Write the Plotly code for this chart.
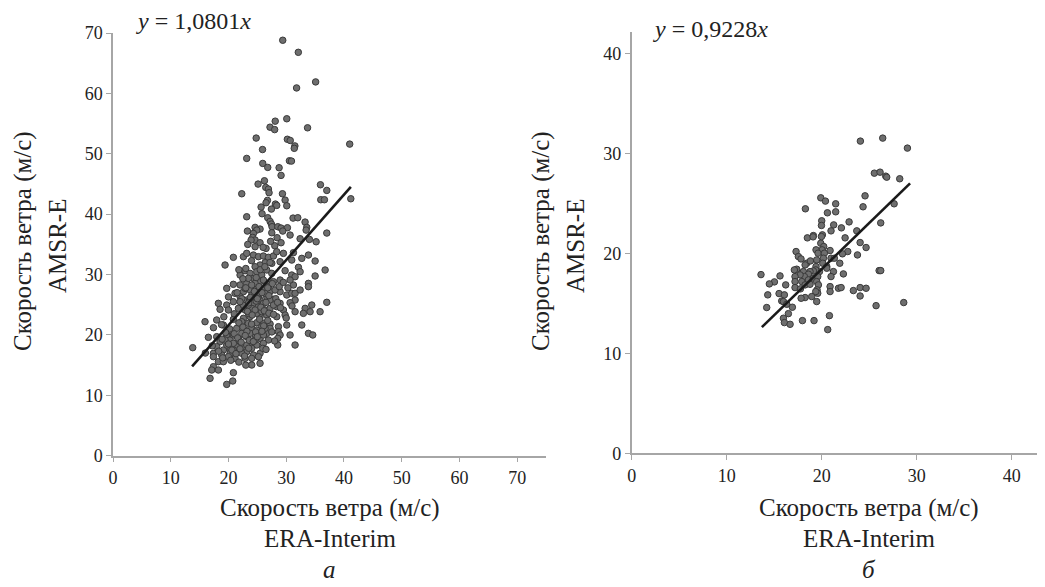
import plotly.graph_objects as go

# ---------------- data: panel a ----------------
a_x = [29.4, 32.1, 31.8, 35.1, 30.1, 28.1, 27.2, 28.0, 33.7, 24.8, 30.2, 30.7, 25.9, 31.5, 31.4, 41.0,
       23.16, 25.94, 26.80, 28.77, 30.56, 30.91, 29.11, 26.23, 25.13, 26.46, 26.92, 27.03, 22.30, 29.35,
       35.93, 37.03, 35.99, 36.62, 41.19, 29.81, 30.10, 26.75, 26.51, 28.13, 28.36, 25.65, 27.44, 25.82,
       23.16, 26.80, 27.21, 27.44, 27.55, 31.19, 32.00, 33.27, 33.56, 33.45, 28.54, 29.11, 30.21, 29.40,
       30.67, 25.47, 24.61, 24.90, 23.28, 24.32, 24.20, 24.61, 23.92, 25.47, 27.50, 28.42, 29.11, 28.02,
       26.51, 23.34, 24.61, 37.03, 32.41, 34.02, 35.18,
       20.85, 22.59, 23.16, 24.32, 25.19, 26.05, 26.92, 27.79, 28.36, 29.52, 31.25, 33.85, 35.01, 32.70,
       30.96, 28.94, 27.50, 26.34, 25.47, 24.61, 19.41, 22.88, 22.01, 23.74, 24.90, 25.76, 26.63, 27.50,
       29.81, 30.96, 32.12, 32.41, 31.54, 36.74, 35.01, 33.85, 33.85, 31.25, 30.67, 28.94, 27.79, 26.63,
       25.47, 24.32, 23.16, 22.01, 20.85, 19.70, 21.14, 22.59, 23.74, 24.90, 26.05, 27.21, 28.94, 30.10,
       30.96, 31.54, 32.41, 31.54, 30.67, 28.94, 27.79, 26.63, 25.47, 24.32, 23.16, 22.01, 20.85, 19.70,
       18.25, 18.54, 19.99, 21.72, 22.88, 24.03, 25.19, 26.34, 27.21, 28.36, 29.52, 29.81, 31.54, 33.28,
       34.43, 35.87, 37.03, 32.98, 34.14, 17.96, 20.85, 22.59, 23.74, 25.47, 26.63, 28.36,
       23.45, 24.61, 24.03, 25.19, 26.05, 26.92, 28.07, 24.90, 26.05, 23.45, 22.59, 27.21, 25.47, 24.03,
       22.88, 26.34, 27.79, 24.61, 25.76, 23.45,
       15.94, 19.12, 22.30, 23.45, 24.90, 26.05, 27.21, 25.76, 24.03, 22.88, 21.43, 20.28, 19.70, 17.96,
       16.52, 13.81, 18.54, 20.28, 21.72, 23.16, 24.61, 25.47, 26.63, 27.21, 28.65, 28.65, 28.94, 30.10,
       30.67, 31.54, 32.70, 33.85, 34.60, 28.54, 28.54, 26.92, 26.05, 24.90, 23.74, 22.59, 21.43, 20.28,
       19.12, 17.96, 17.39, 18.83, 20.28, 21.72, 23.16, 24.32, 25.47, 25.94, 25.19, 24.03, 25.47, 24.03,
       22.88, 21.14, 19.99, 18.25, 17.39, 17.10, 18.25, 16.81, 20.85, 20.74, 19.70, 17.39, 19.12,
       20.85, 22.30, 23.74, 24.90, 22.01, 23.16, 24.61, 20.85, 19.70, 24.03, 22.30, 20.85, 19.41, 26.05,
       26.34,
       21.5, 22.3, 23.0, 23.8, 24.5, 25.3, 25.8, 26.5, 27.0, 27.6, 28.2, 28.8, 22.6, 23.3, 24.1, 24.8,
       25.6, 26.2, 27.0, 27.8, 28.5, 21.0, 21.8, 22.5, 23.2, 24.0, 24.7, 25.4, 26.1, 26.8, 20.2, 21.0,
       21.6, 22.2, 22.9, 23.6, 24.3, 25.0, 25.8, 20.0, 20.6, 21.3, 22.0, 22.8, 23.5, 18.9, 19.5, 18.3,
       19.0, 20.4, 21.8, 23.0, 24.8, 25.5, 26.3, 27.2, 26.0, 27.3, 24.0, 23.0, 21.8, 22.5, 29.5, 30.3,
       29.0, 30.0, 31.0, 27.5, 28.0, 26.5, 20.0, 19.2, 18.8, 17.4, 17.2, 16.0, 26.8, 25.0, 23.5, 22.0]
a_y = [68.8, 66.8, 60.9, 61.9, 55.8, 55.4, 54.4, 54.0, 54.3, 52.6, 52.4, 52.2, 50.7, 51.3, 50.9, 51.6,
       49.23, 48.40, 47.74, 47.69, 48.84, 48.79, 46.42, 45.53, 44.98, 44.43, 44.15, 43.55, 43.38, 43.38,
       44.87, 43.93, 42.39, 42.39, 42.55, 42.33, 41.39, 42.28, 41.89, 41.67, 41.45, 41.17, 40.84, 40.07,
       39.57, 39.41, 38.80, 38.36, 37.92, 39.35, 39.41, 38.69, 37.81, 37.36, 37.92, 37.70, 37.75, 37.20,
       36.54, 37.53, 37.81, 37.36, 37.20, 36.81, 36.15, 35.71, 35.71, 35.27, 36.92, 36.10, 35.27, 34.77,
       34.33, 34.99, 34.61, 36.87, 35.93, 35.82, 35.43,
       32.85, 32.96, 33.51, 33.23, 32.96, 33.07, 32.85, 33.07, 33.78, 33.51, 33.62, 33.23, 32.24, 32.68,
       32.40, 32.13, 31.85, 31.96, 31.58, 31.30, 31.58, 30.64, 29.92, 30.20, 30.47, 29.92, 30.75, 30.20,
       30.64, 29.92, 31.19, 30.47, 29.64, 30.75, 29.76, 28.54, 27.99, 28.27, 29.09, 29.09, 28.82, 28.54,
       28.82, 29.37, 28.54, 28.27, 28.38, 27.71, 26.89, 27.16, 27.44, 27.71, 27.44, 27.16, 27.16, 26.61,
       26.89, 26.89, 27.44, 25.78, 25.34, 25.23, 25.89, 26.33, 25.78, 25.23, 25.78, 26.33, 25.51, 24.95,
       25.23, 24.24, 24.13, 24.40, 24.13, 24.40, 24.68, 24.13, 24.40, 24.68, 24.13, 23.30, 23.85, 24.40,
       24.95, 23.85, 25.40, 23.57, 23.85, 22.47, 22.58, 22.75, 23.02, 23.02, 23.30, 23.02,
       29.37, 28.54, 26.61, 26.33, 29.09, 27.99, 27.44, 23.57, 25.23, 24.95, 25.78, 25.78, 26.89, 28.27,
       27.71, 26.89, 24.95, 24.13, 23.85, 23.57,
       22.19, 21.64, 22.19, 21.92, 22.03, 21.92, 21.81, 21.37, 21.09, 20.81, 21.09, 20.54, 19.99, 19.71,
       19.60, 17.89, 18.88, 19.16, 19.43, 19.71, 19.99, 19.43, 20.26, 21.09, 21.37, 20.54, 19.99, 21.64,
       19.99, 18.33, 21.64, 20.26, 19.99, 19.43, 18.33, 19.16, 18.61, 18.33, 18.61, 18.06, 18.33, 17.78,
       17.50, 18.06, 16.95, 16.68, 16.95, 17.23, 17.23, 16.68, 16.95, 17.78, 16.40, 16.12, 15.30, 15.02,
       16.12, 16.12, 16.40, 15.57, 14.74, 14.19, 14.19, 12.81, 13.75, 12.37, 11.81, 16.40, 15.57,
       19.99, 20.26, 20.26, 20.81, 18.88, 18.33, 19.16, 18.61, 18.33, 17.78, 16.95, 17.50, 19.16, 19.99,
       21.09,
       27.0, 26.0, 27.8, 26.2, 27.2, 28.0, 27.0, 25.4, 26.5, 28.5, 26.0, 28.0, 24.9, 23.9, 23.3, 25.6,
       24.6, 24.0, 23.6, 23.4, 25.4, 23.5, 22.0, 21.3, 20.6, 21.8, 20.5, 22.6, 21.5, 22.4, 21.0, 20.2,
       19.5, 18.8, 19.9, 19.1, 18.9, 19.7, 20.6, 18.5, 17.5, 16.9, 17.7, 16.5, 17.8, 19.3, 20.4, 17.3,
       16.2, 15.8, 15.5, 15.0, 29.5, 30.8, 31.3, 32.0, 34.5, 35.5, 32.3, 31.0, 30.8, 29.3, 28.7, 27.8,
       24.5, 22.8, 24.8, 20.5, 19.0, 17.6, 26.3, 23.0, 21.7, 21.2, 18.2, 17.0, 27.8, 26.0, 25.3, 25.5]

a_slope = 1.0801
a_fit_x = [13.7, 41.2]

# ---------------- data: panel б ----------------
b_x = [24.07, 26.42, 29.02, 25.54, 26.14, 26.74, 26.84, 28.21, 19.90, 20.39, 21.47, 24.56, 18.28, 24.35,
       27.62, 20.60, 21.47, 20.00, 19.97, 21.26, 22.88, 22.07, 20.98, 26.21, 23.69, 20.07, 19.12,
       18.49, 19.09, 19.97, 22.46, 24.04, 24.67, 23.76, 22.74, 22.18, 20.88, 19.90, 20.21, 20.04, 19.40,
       19.61, 20.28, 20.18, 19.47, 17.30, 17.54, 17.82, 18.42, 18.25, 18.81, 19.40, 20.11, 20.53, 20.98,
       21.33, 21.90, 20.53, 21.23, 19.76, 19.37, 19.12, 18.77, 18.07, 17.37, 17.12, 18.60, 18.18, 17.72,
       17.19, 18.60, 19.12, 19.58, 17.19, 17.90, 18.25, 18.77, 19.47, 19.65, 20.98, 22.28, 26.04, 26.21,
       13.61, 15.02, 14.49, 15.61, 16.21, 17.19, 17.76, 19.51, 19.58, 19.37, 18.95, 18.25, 17.83, 20.88,
       20.88, 21.76, 22.04, 23.33, 24.04, 24.67, 24.04, 14.32, 15.51, 16.07, 15.79, 15.97, 16.32, 16.91,
       14.21, 16.49, 15.97, 16.07, 16.67, 17.97, 19.19, 20.81, 20.63, 25.72, 28.63, 19.47]
b_y = [31.27, 31.57, 30.57, 28.06, 28.16, 27.76, 27.66, 27.50, 25.59, 25.26, 24.99, 25.79, 24.49, 24.69,
       24.99, 24.09, 24.19, 23.29, 22.82, 22.88, 23.18, 22.58, 22.28, 23.08, 22.28, 21.88, 21.81,
       21.58, 21.68, 21.71, 21.58, 21.11, 20.61, 19.87, 20.21, 19.98, 20.31, 21.04, 20.71, 20.38, 20.38,
       20.04, 20.04, 19.54, 19.37, 20.21, 19.71, 19.47, 19.04, 18.87, 19.27, 18.71, 19.04, 18.71, 19.54,
       19.54, 19.04, 18.54, 18.20, 18.20, 18.37, 18.27, 18.20, 18.20, 18.44, 18.37, 17.94, 17.70, 17.87,
       17.70, 17.37, 17.54, 17.70, 17.20, 17.20, 16.87, 16.93, 17.20, 16.87, 17.70, 17.97, 18.30, 18.30,
       17.90, 17.17, 16.97, 17.77, 16.87, 16.60, 16.47, 16.37, 16.03, 16.20, 15.70, 15.60, 15.53, 16.70,
       16.20, 16.53, 16.60, 16.30, 16.60, 16.53, 15.76, 15.87, 16.00, 15.87, 15.26, 15.20, 14.93, 14.63,
       14.60, 13.99, 13.53, 13.09, 12.92, 13.29, 13.29, 13.79, 12.39, 14.79, 15.10, 15.20]

b_slope = 0.9228
b_fit_x = [13.7, 29.3]

a_ticks = [0, 10, 20, 30, 40, 50, 60, 70]
b_ticks = [0, 10, 20, 30, 40]

title_speed = "Скорость ветра (м/с)"
title_x_src = "ERA-Interim"
title_y_src = "AMSR-E"
eq_a = "<i>y</i> = 1,0801<i>x</i>"
eq_b = "<i>y</i> = 0,9228<i>x</i>"
label_a = "<i>а</i>"
label_b = "<i>б</i>"

# ---------------- figure ----------------
OFF = 8                       # default page body margin
W, H = 1045 - OFF, 587 - OFF  # visible part of the figure
SERIF = "Times New Roman, Liberation Serif, Tinos, DejaVu Serif, serif"
AX_COLOR = "#a6a6a6"
TXT = "#222222"

fig = go.Figure()

marker = dict(size=6.5, color="#6e6e6e", line=dict(color="#3a3a3a", width=1))
fig.add_trace(go.Scatter(x=a_x, y=a_y, mode="markers", marker=marker,
                         xaxis="x", yaxis="y", showlegend=False))
fig.add_trace(go.Scatter(x=a_fit_x, y=[a_slope * v for v in a_fit_x], mode="lines",
                         line=dict(color="#1a1a1a", width=2.6),
                         xaxis="x", yaxis="y", showlegend=False))
fig.add_trace(go.Scatter(x=b_x, y=b_y, mode="markers", marker=marker,
                         xaxis="x2", yaxis="y2", showlegend=False))
fig.add_trace(go.Scatter(x=b_fit_x, y=[b_slope * v for v in b_fit_x], mode="lines",
                         line=dict(color="#1a1a1a", width=2.6),
                         xaxis="x2", yaxis="y2", showlegend=False))

def px(v):
    return (v - OFF) / W

def py(v):
    return 1 - (v - OFF) / H

axis_common = dict(showgrid=False, zeroline=False, showline=True, linecolor=AX_COLOR,
                   linewidth=1.5, ticks="outside", ticklen=5, tickcolor=AX_COLOR,
                   tickwidth=1.2, tickfont=dict(family=SERIF, size=18, color=TXT),
                   fixedrange=True, automargin=False)

fig.update_layout(
    width=W, height=H,
    margin=dict(l=0, r=0, t=0, b=0, autoexpand=False),
    paper_bgcolor="white", plot_bgcolor="white",
    xaxis=dict(domain=[px(113), px(546)], range=[0, 75], tickvals=a_ticks,
               anchor="y", **axis_common),
    yaxis=dict(domain=[py(455.7), py(33)], range=[0, 70], tickvals=a_ticks,
               anchor="x", **axis_common),
    xaxis2=dict(domain=[px(631.7), 1.0], range=[0, 43.5], tickvals=b_ticks,
                anchor="y2", **axis_common),
    yaxis2=dict(domain=[py(453.3), py(32)], range=[0, 42.2], tickvals=b_ticks,
                anchor="x2", **axis_common),
)

tfont = dict(family=SERIF, size=25, color=TXT)
base = dict(xref="paper", yref="paper", showarrow=False, xanchor="center", yanchor="middle")
annotations = [
    # x-axis titles
    dict(x=px(330), y=py(508), text=title_speed, font=tfont, **base),
    dict(x=px(330), y=py(538), text=title_x_src, font=tfont, **base),
    dict(x=px(869), y=py(508), text=title_speed, font=tfont, **base),
    dict(x=px(869), y=py(538), text=title_x_src, font=tfont, **base),
    # y-axis titles
    dict(x=px(23), y=py(241), text=title_speed, font=tfont, textangle=-90, **base),
    dict(x=px(57), y=py(246), text=title_y_src, font=tfont, textangle=-90, **base),
    dict(x=px(541), y=py(241), text=title_speed, font=tfont, textangle=-90, **base),
    dict(x=px(575), y=py(246), text=title_y_src, font=tfont, textangle=-90, **base),
    # regression equations
    dict(x=px(193), y=py(21), text=eq_a, font=dict(family=SERIF, size=24, color=TXT), **base),
    dict(x=px(710), y=py(29), text=eq_b, font=dict(family=SERIF, size=24, color=TXT), **base),
    # panel letters
    dict(x=px(330), y=py(569), text=label_a, font=dict(family=SERIF, size=25, color=TXT), **base),
    dict(x=px(869), y=py(569), text=label_b, font=dict(family=SERIF, size=25, color=TXT), **base),
]
fig.update_layout(annotations=annotations)

fig.write_html("out.html")
